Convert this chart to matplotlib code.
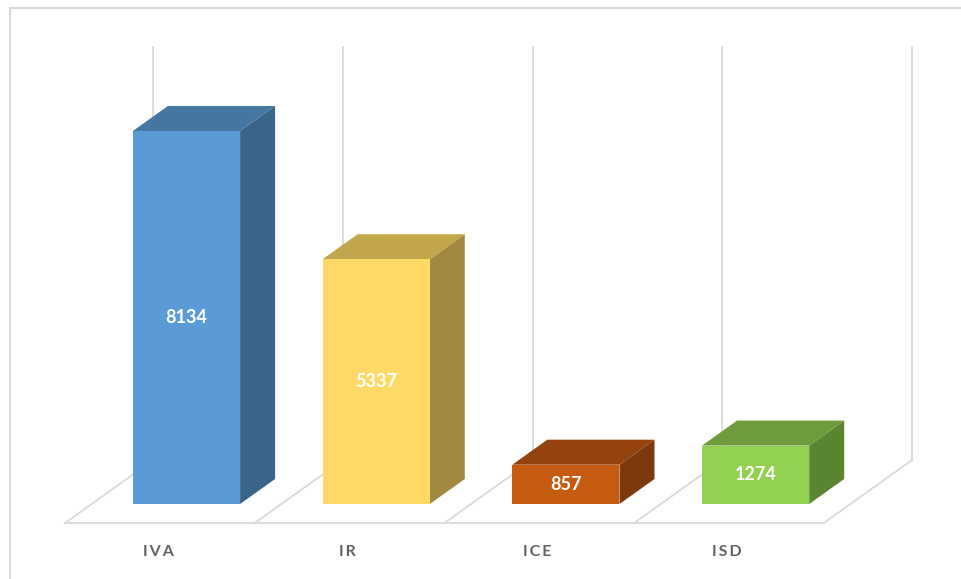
import matplotlib.pyplot as plt
from matplotlib.patches import Polygon

# data
categories = ['IVA', 'IR', 'ICE', 'ISD']
values = [8134, 5337, 857, 1274]
value_max = 9000

# face colours: front, top, side
front_colors = ['#5B9BD5', '#FFD966', '#C55A11', '#92D050']
top_colors = ['#4676A2', '#C1A64E', '#94420D', '#6E9C3C']
side_colors = ['#3A6588', '#A18A3F', '#7D380B', '#5C8532']

# projection: one depth step moves the point right and up
px_per_x = 189.7          # pixels per category slot
px_per_y = 0.04586        # pixels per value unit
depth_dx = 1.4 / px_per_x  # data x shift per depth pixel
depth_dy = 1.0 / px_per_y  # data y shift per depth pixel

bar_width = 0.565
bar_depth = 25
floor_front = -19
floor_back = 44

W, H = 962, 579
fig = plt.figure(figsize=(W / 100, H / 100), dpi=100)
ax = fig.add_axes([0, 0, 1, 1])
ax.set_xlim(-186.5 / px_per_x, (W - 186.5) / px_per_x)
ax.set_ylim((504 - H) / px_per_y, 504 / px_per_y)
ax.axis('off')


def proj(x, y, t):
    return (x + t * depth_dx, y + t * depth_dy)


grid_col = '#D9D9D9'
n = len(categories)
edges = [i - 0.5 for i in range(n + 1)]

# back wall gridlines
for e in edges:
    x0, y0 = proj(e, 0, floor_back)
    x1, y1 = proj(e, value_max, floor_back)
    ax.plot([x0, x1], [y0, y1], color=grid_col, lw=1.3, zorder=1)

# floor dividers and front edge
for e in edges:
    x0, y0 = proj(e, 0, floor_front)
    x1, y1 = proj(e, 0, floor_back)
    ax.plot([x0, x1], [y0, y1], color=grid_col, lw=1.3, zorder=1)
xa, ya = proj(edges[0], 0, floor_front)
xb, yb = proj(edges[-1], 0, floor_front)
ax.plot([xa, xb], [ya, yb], color=grid_col, lw=1.3, zorder=1)

# bars
for i, v in enumerate(values):
    l, r = i - bar_width / 2, i + bar_width / 2
    front = [(l, 0), (r, 0), (r, v), (l, v)]
    top = [(l, v), (r, v), proj(r, v, bar_depth), proj(l, v, bar_depth)]
    side = [(r, 0), proj(r, 0, bar_depth), proj(r, v, bar_depth), (r, v)]
    ax.add_patch(Polygon(side, closed=True, fc=side_colors[i], ec='none', zorder=3))
    ax.add_patch(Polygon(top, closed=True, fc=top_colors[i], ec='none', zorder=3))
    ax.add_patch(Polygon(front, closed=True, fc=front_colors[i], ec='none', zorder=4))
    ax.text(i, v / 2, str(v), color='white', fontsize=13, fontweight='bold',
            family='Lato', ha='center', va='center', zorder=5)

    # category label under the floor slot
    lx, ly = proj(i, 0, floor_front)
    ax.text(lx - 0.01, ly - 29 / px_per_y, '\u2009'.join(categories[i]),
            color='#626262', fontsize=11.5, fontweight='bold', family='Lato',
            ha='center', va='center', zorder=5)

# chart area border (runs off the right and bottom)
fig.add_artist(plt.Line2D([9.5 / W, 9.5 / W], [0, 1 - 8 / H],
                          color=grid_col, lw=1.5))
fig.add_artist(plt.Line2D([9.5 / W, 1], [1 - 8 / H, 1 - 8 / H],
                          color=grid_col, lw=1.5))

fig.savefig('out.png', dpi=100)
